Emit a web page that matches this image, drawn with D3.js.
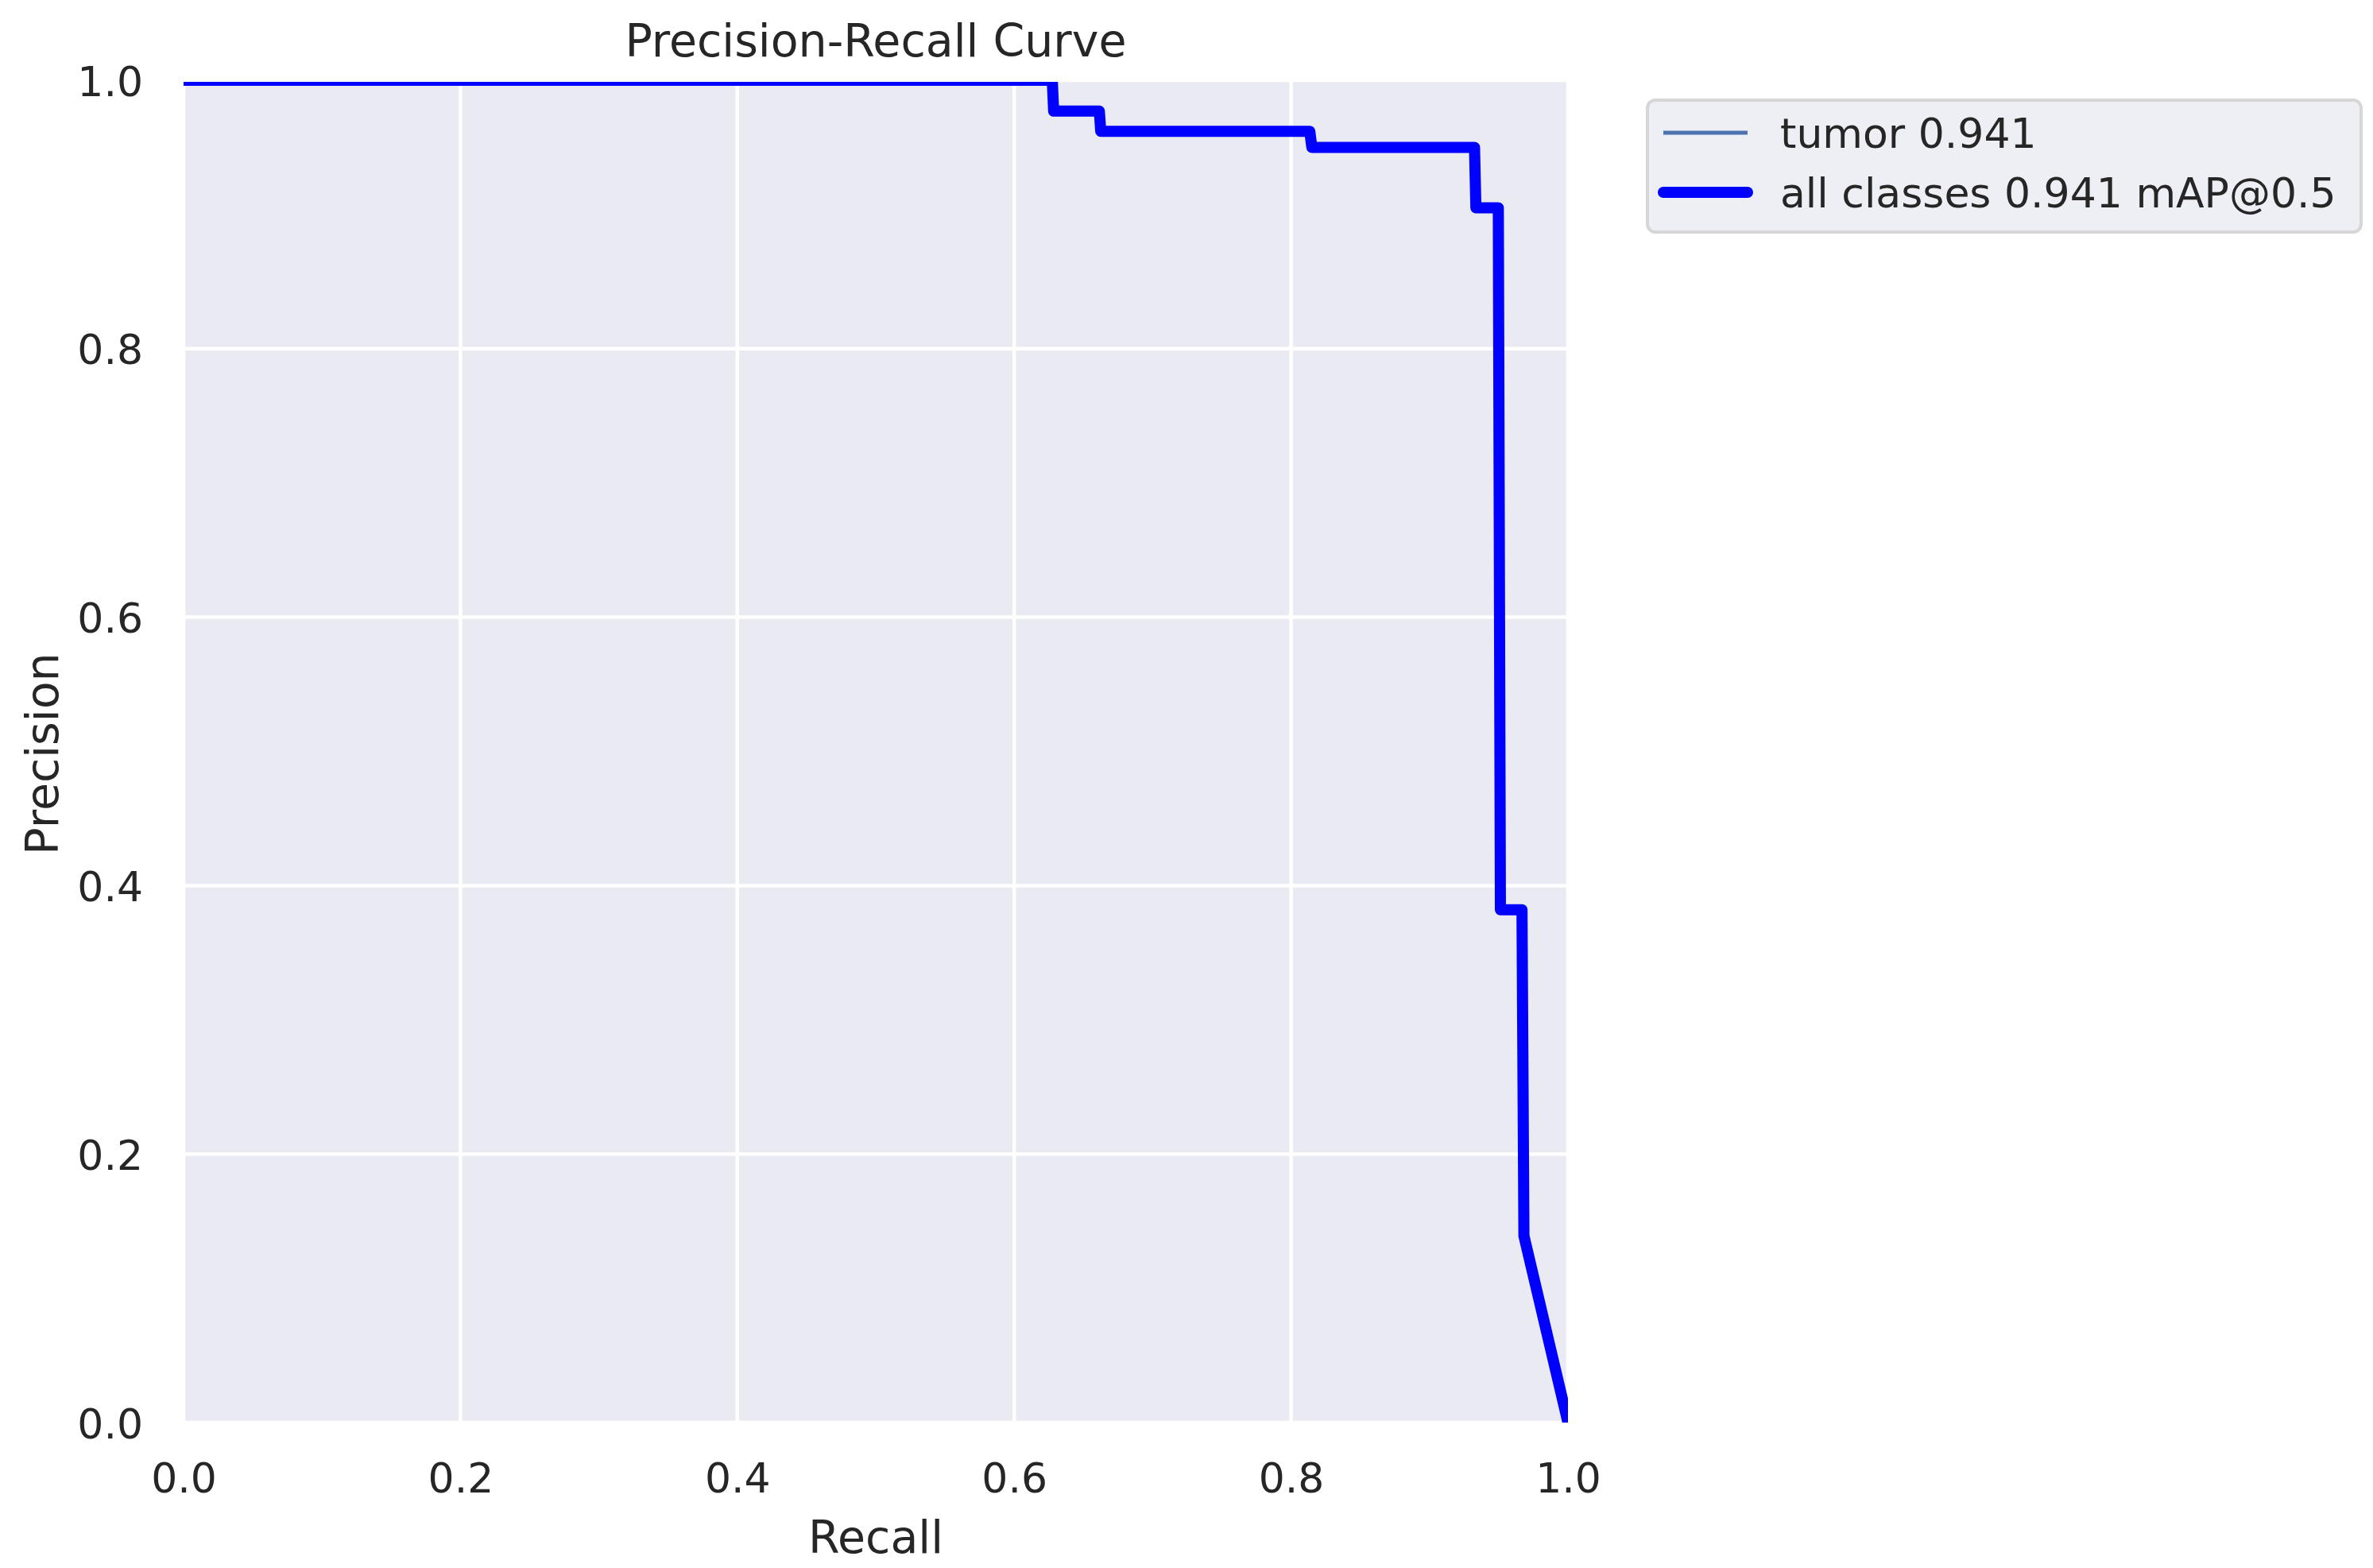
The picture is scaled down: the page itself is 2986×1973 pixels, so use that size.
<!DOCTYPE html>
<html>
<head>
<meta charset="utf-8">
<script src="https://cdn.jsdelivr.net/npm/d3@7"></script>
<style>
  html, body { margin: 0; padding: 0; background: #ffffff; }
  svg { display: block; }
  text { font-family: "DejaVu Sans", sans-serif; fill: #262626; }
</style>
</head>
<body>
<script>
// ---- data ----
const recall    = [0.0, 0.6275, 0.6285, 0.6615, 0.6625, 0.8135, 0.8150, 0.9325, 0.9335, 0.9497, 0.9512, 0.9668, 0.9682, 1.0];
const precision = [1.0, 1.0,    0.977,  0.977,  0.962,  0.962,  0.950,  0.950,  0.905,  0.905,  0.382,  0.382,  0.139,  0.0];
const xTicks = [0.0, 0.2, 0.4, 0.6, 0.8, 1.0];
const yTicks = [0.0, 0.2, 0.4, 0.6, 0.8, 1.0];
const seriesNames = ["tumor 0.941", "all classes 0.941 mAP@0.5"];
const seriesColors = ["#4C72B0", "#0000FF"];
const titleText = "Precision-Recall Curve";
const xLabel = "Recall";
const yLabel = "Precision";

// ---- layout ----
const W = 2986, H = 1973;
const plot = { left: 231, right: 1973, top: 101, bottom: 1790 };
const visTop = plot.top + 2;

const svg = d3.select("body").append("svg").attr("width", W).attr("height", H);

const x = d3.scaleLinear().domain([0, 1]).range([plot.left, plot.right]);
const y = d3.scaleLinear().domain([0, 1]).range([plot.bottom, plot.top]);

// background
svg.append("rect")
  .attr("x", plot.left).attr("y", visTop)
  .attr("width", plot.right - plot.left).attr("height", plot.bottom - visTop)
  .attr("fill", "#EAEAF2");

// grid
svg.append("g").selectAll("line").data(xTicks).join("line")
  .attr("x1", d => x(d)).attr("x2", d => x(d))
  .attr("y1", visTop).attr("y2", plot.bottom)
  .attr("stroke", "#ffffff").attr("stroke-width", 4.5);
svg.append("g").selectAll("line").data(yTicks).join("line")
  .attr("y1", d => y(d)).attr("y2", d => y(d))
  .attr("x1", plot.left).attr("x2", plot.right)
  .attr("stroke", "#ffffff").attr("stroke-width", 4.5);

// clip
svg.append("clipPath").attr("id", "clip").append("rect")
  .attr("x", plot.left).attr("y", visTop)
  .attr("width", plot.right - plot.left).attr("height", plot.bottom - visTop);

const pts = recall.map((r, i) => [r, precision[i]]);
const line = d3.line().x(d => x(d[0])).y(d => y(d[1]));

const g = svg.append("g").attr("clip-path", "url(#clip)");
g.append("path").datum(pts).attr("d", line)
  .attr("fill", "none").attr("stroke", seriesColors[0]).attr("stroke-width", 4.8)
  .attr("stroke-linejoin", "round");
g.append("path").datum(pts).attr("d", line)
  .attr("fill", "none").attr("stroke", seriesColors[1]).attr("stroke-width", 14)
  .attr("stroke-linejoin", "round");

// axes via d3 axis (no tick lines, no domain)
const tickFmt = d3.format(".1f");
const xAxis = svg.append("g").attr("transform", `translate(0,${plot.bottom})`)
  .call(d3.axisBottom(x).tickValues(xTicks).tickFormat(tickFmt).tickSize(0).tickPadding(0));
xAxis.select(".domain").remove();
xAxis.selectAll("text")
  .attr("y", 88).attr("dy", null)
  .attr("font-size", 52).attr("font-family", "DejaVu Sans").attr("fill", "#262626");

const yAxis = svg.append("g").attr("transform", `translate(${plot.left},0)`)
  .call(d3.axisLeft(y).tickValues(yTicks).tickFormat(tickFmt).tickSize(0).tickPadding(0));
yAxis.select(".domain").remove();
yAxis.selectAll("text")
  .attr("x", -51).attr("dy", 19)
  .attr("font-size", 52).attr("font-family", "DejaVu Sans").attr("fill", "#262626");

// title and labels
svg.append("text").attr("x", (plot.left + plot.right) / 2).attr("y", 71)
  .attr("text-anchor", "middle").attr("font-size", 57).text(titleText);
svg.append("text").attr("x", (plot.left + plot.right) / 2).attr("y", 1954)
  .attr("text-anchor", "middle").attr("font-size", 57).text(xLabel);
svg.append("text")
  .attr("transform", `translate(73,${(plot.top + plot.bottom) / 2 + 3}) rotate(-90)`)
  .attr("text-anchor", "middle").attr("font-size", 57).text(yLabel);

// legend
const leg = svg.append("g");
leg.append("rect")
  .attr("x", 2073).attr("y", 126).attr("width", 898).attr("height", 166)
  .attr("rx", 10).attr("ry", 10)
  .attr("fill", "#EEEEF5").attr("stroke", "#d6d6d6").attr("stroke-width", 4);
const legY = [167, 242];
const legW = [4.8, 14];
seriesNames.forEach((name, i) => {
  leg.append("line")
    .attr("x1", 2093).attr("x2", 2199).attr("y1", legY[i]).attr("y2", legY[i])
    .attr("stroke", seriesColors[i]).attr("stroke-width", legW[i])
    .attr("stroke-linecap", i === 1 ? "round" : "butt");
  leg.append("text").attr("x", 2240).attr("y", legY[i] + 19)
    .attr("font-size", 52).text(name);
});
</script>
</body>
</html>
